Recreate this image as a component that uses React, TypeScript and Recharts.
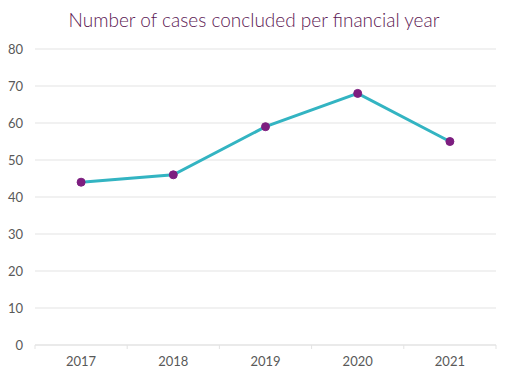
import React from "react";
import { CartesianGrid, Line, LineChart, XAxis, YAxis } from "recharts";

const years = ["2017", "2018", "2019", "2020", "2021"];
const casesConcluded = [44, 46, 59, 68, 55];
const yTicks = [0, 10, 20, 30, 40, 50, 60, 70, 80];

const FONT = "Lato, 'Open Sans', sans-serif";
const TITLE_COLOR = "#5c1853";
const LABEL_COLOR = "#595959";
const GRID_COLOR = "#e3e3e3";

// positions on a numeric axis: year labels sit mid-band, tick marks on band edges
const data = years.map((year, i) => ({ x: i + 0.5, year, cases: casesConcluded[i] }));
const xTicks = Array.from({ length: years.length * 2 + 1 }, (_, i) => i / 2);

function YearTick(props: any) {
  const { x, y, payload } = props;
  const v = payload.value as number;
  if (Number.isInteger(v)) {
    return <line x1={x} x2={x} y1={y} y2={y + 4} stroke={GRID_COLOR} strokeWidth={1} />;
  }
  const label = years[Math.floor(v)];
  return (
    <text x={x} y={y + 21} textAnchor="middle" fill={LABEL_COLOR} fontSize={13} fontFamily={FONT}>
      {label}
    </text>
  );
}

export default function App() {
  return (
    <div style={{ position: "absolute", left: 0, top: 0, width: 512, height: 375, background: "#fff" }}>
      <div
        style={{
          position: "absolute",
          left: 0,
          top: 10,
          width: 508,
          textAlign: "center",
          fontFamily: FONT,
          fontSize: 19,
          fontWeight: 300,
          lineHeight: "19px",
          color: TITLE_COLOR,
        }}
      >
        Number of cases concluded per financial year
      </div>
      <LineChart width={512} height={375} data={data} margin={{ top: 49, right: 16, left: 0, bottom: 0 }}>
        <CartesianGrid stroke={GRID_COLOR} vertical={false} />
        <XAxis
          dataKey="x"
          type="number"
          domain={[0, years.length]}
          ticks={xTicks}
          interval={0}
          height={30}
          tickSize={0}
          tickMargin={0}
          tickLine={false}
          axisLine={{ stroke: GRID_COLOR }}
          tick={<YearTick />}
        />
        <YAxis
          domain={[0, 80]}
          ticks={yTicks}
          interval={0}
          width={35}
          axisLine={false}
          tickLine={false}
          tickSize={0}
          tickMargin={12}
          tick={{ fill: LABEL_COLOR, fontSize: 13, fontFamily: FONT }}
        />
        <Line
          dataKey="cases"
          type="linear"
          stroke="#33b4c2"
          strokeWidth={3}
          dot={{ r: 4, fill: "#7d1e80", stroke: "#7d1e80", strokeWidth: 1 }}
          activeDot={false}
          isAnimationActive={false}
        />
      </LineChart>
    </div>
  );
}
